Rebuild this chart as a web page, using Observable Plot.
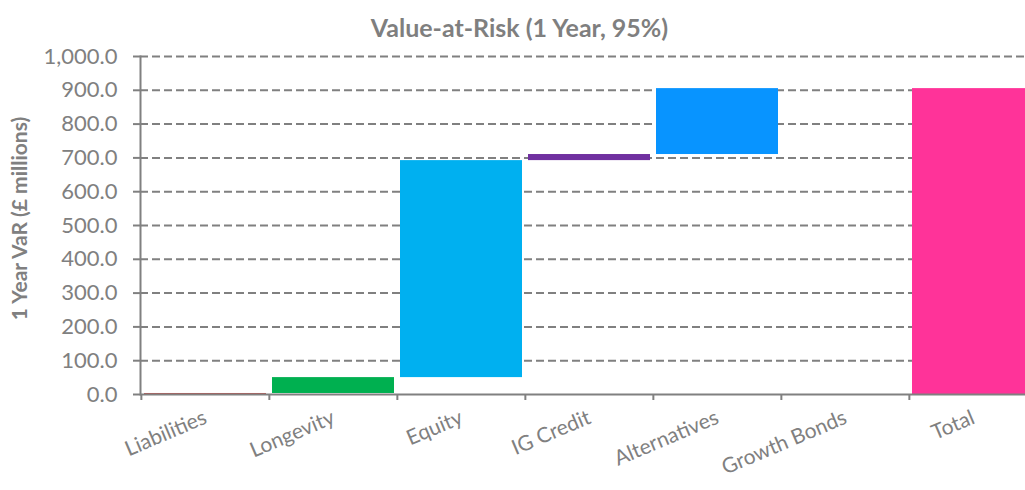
<!DOCTYPE html>
<html>
<head>
<meta charset="utf-8">
<script src="https://cdn.jsdelivr.net/npm/d3@7"></script>
<script src="https://cdn.jsdelivr.net/npm/@observablehq/plot@0.6"></script>
<style>
  html, body { margin: 0; padding: 0; background: #fff; overflow: hidden; }
  #title { position: absolute; left: 0; top: 12px; width: 1039px; height: 30px; line-height: 30px; text-align: center;
           font: bold 25px Lato, sans-serif; color: #7f7f7f; z-index: 2; }
  #chart { padding-top: 34px; }
  #chart svg { display: block; }
</style>
</head>
<body>
<div id="title">Value-at-Risk (1 Year, 95%)</div>
<div id="chart"></div>
<script>
const categories = ["Liabilities", "Longevity", "Equity", "IG Credit", "Alternatives", "Growth Bonds", "Total"];
const barStart = [0, 3, 50, 692, 710, 905, 0];
const barEnd   = [3, 50, 692, 710, 905, 905, 905];
const barColors = ["#C0504D", "#00B050", "#00B0F0", "#7030A0", "#0894FF", "#0894FF", "#FF3399"];
const yTicks = [0, 100, 200, 300, 400, 500, 600, 700, 800, 900, 1000];
const yLabel = "1 Year VaR (£ millions)";

const data = categories.map((c, i) => ({cat: c, y1: barStart[i], y2: barEnd[i], color: barColors[i]}));

const W = 1025, H = 456;
const xRange = [140, 1038];
const step = (xRange[1] - xRange[0]) / categories.length;
const gray = "#808080";

const chart = Plot.plot({
  width: W,
  height: H,
  marginLeft: 140,
  marginRight: 0,
  marginTop: 22,
  marginBottom: 96,
  style: {fontFamily: "Lato, sans-serif", color: gray},
  x: {domain: categories, range: xRange, paddingInner: 0.047, paddingOuter: 0.0235, axis: null},
  y: {domain: [0, 1000], axis: null},
  marks: [
    Plot.ruleY(yTicks.filter(d => d > 0), {y: d => d, stroke: gray, strokeWidth: 2, strokeDasharray: "8,4"}),
    Plot.barY(data, {x: "cat", y1: "y1", y2: "y2", fill: "color"}),
    Plot.ruleY([0], {stroke: gray, strokeWidth: 2}),
    Plot.frame({anchor: "left", stroke: gray, strokeWidth: 2}),
    Plot.axisY({ticks: yTicks, tickSize: 7, tickPadding: 16, tickFormat: d => d3.format(",.1f")(d),
                fontSize: 22, stroke: gray, strokeWidth: 2, fill: gray, label: null}),
    Plot.axisX({tickSize: 6, tickFormat: () => "", dx: -step / 2, stroke: gray, strokeWidth: 2, label: null}),
    Plot.axisX({tickSize: 0, tickPadding: 22, tickRotate: -23, fontSize: 21, fill: gray, label: null}),
    Plot.text([yLabel], {frameAnchor: "left", rotate: -90, dx: -120, dy: -7, text: d => d,
                         textAnchor: "middle", fontSize: 21, fontWeight: "bold", fill: gray})
  ]
});
document.getElementById("chart").appendChild(chart);
</script>
</body>
</html>
